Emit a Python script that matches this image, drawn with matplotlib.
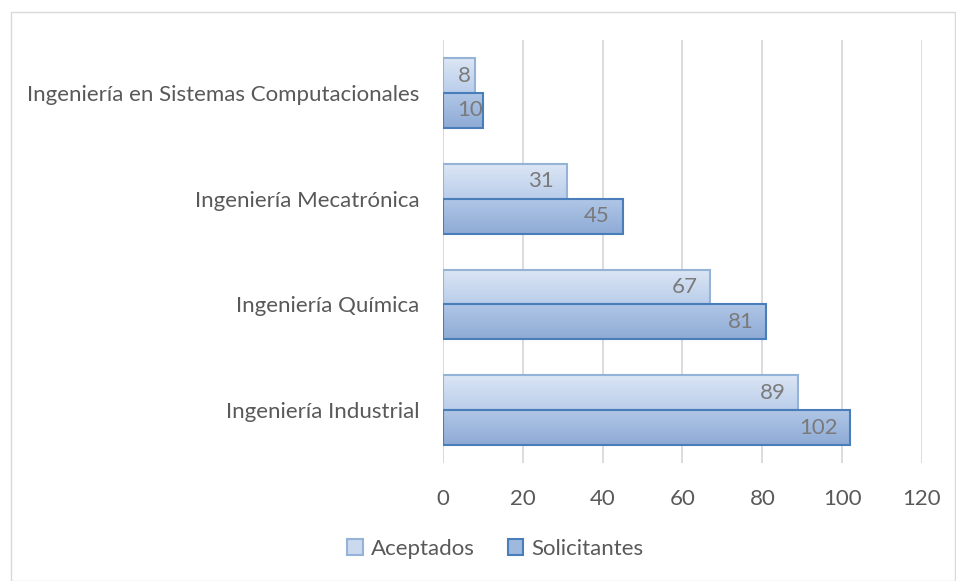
import matplotlib
matplotlib.use("Agg")
import matplotlib.pyplot as plt
import numpy as np
from matplotlib.colors import LinearSegmentedColormap
from matplotlib.patches import Rectangle, Patch

categories = ["Ingeniería Industrial", "Ingeniería Química", "Ingeniería Mecatrónica",
              "Ingeniería en Sistemas Computacionales"]
aceptados = [89, 67, 31, 8]
solicitantes = [102, 81, 45, 10]
series_names = ["Aceptados", "Solicitantes"]
xticks = [0, 20, 40, 60, 80, 100, 120]

plt.rcParams['font.family'] = ['Lato', 'DejaVu Sans']
text_color = '#595959'
fs = 16

fig = plt.figure(figsize=(9.56, 5.81), dpi=100)
ax = fig.add_axes([0.4634, 0.203, 0.501, 0.728])

bh = 0.33
y = np.arange(len(categories))
styles = [
    dict(top='#dce6f5', bot='#b9cdea', edge='#95b3d7', offset=+bh/2),
    dict(top='#b0c6e6', bot='#8eabd5', edge='#4a7ebb', offset=-bh/2),
]
grad = np.linspace(0, 1, 64).reshape(-1, 1)
for vals, st, name in zip([aceptados, solicitantes], styles, series_names):
    cmap = LinearSegmentedColormap.from_list('g', [st['top'], st['bot']])
    bars = ax.barh(y + st['offset'], vals, height=bh, facecolor='none',
                   edgecolor=st['edge'], linewidth=1.5, zorder=3, label=name)
    for b in bars:
        x0, y0 = b.get_x(), b.get_y()
        w, h = b.get_width(), b.get_height()
        ax.imshow(grad, cmap=cmap, extent=(x0, x0 + w, y0, y0 + h), origin='upper',
                  aspect='auto', zorder=2, interpolation='bilinear')
    for b, v in zip(bars, vals):
        yc = b.get_y() + b.get_height()/2
        if v >= 20:
            ax.text(v - 3.2, yc, str(v), ha='right', va='center',
                    fontsize=fs, color='#7a7a7a', zorder=4)
        else:
            ax.text(3.6, yc, str(v), ha='left', va='center',
                    fontsize=fs, color='#7a7a7a', zorder=4)

ax.set_xlim(0, 120)
ax.set_ylim(-0.5, 3.5)
ax.set_xticks(xticks)
ax.set_xticklabels([str(t) for t in xticks])
ax.set_yticks(y)
ax.set_yticklabels(categories)
ax.tick_params(axis='both', length=0, labelsize=fs, labelcolor=text_color)
ax.tick_params(axis='x', pad=19)
ax.tick_params(axis='y', pad=17)
ax.xaxis.grid(True, color='#d9d9d9', linewidth=1.3, zorder=0)
ax.set_axisbelow(True)
for s in ax.spines.values():
    s.set_visible(False)
ax.axvline(0, color='#d9d9d9', linewidth=1.3, zorder=1)

handles = [Patch(facecolor='#cbd9ef', edgecolor='#95b3d7', linewidth=1.5),
           Patch(facecolor='#9fb8de', edgecolor='#4a7ebb', linewidth=1.5)]
leg = fig.legend(handles, series_names, loc='center', bbox_to_anchor=(0.518, 0.055),
                 ncol=2, frameon=False, fontsize=fs, handlelength=0.7, handleheight=0.7,
                 handletextpad=0.35, columnspacing=1.5)
for t in leg.get_texts():
    t.set_color(text_color)

fig.patches.append(Rectangle((0.011, 0.0), 0.988, 0.979, transform=fig.transFigure,
                             fill=False, edgecolor='#d9d9d9', linewidth=1.0))

fig.savefig('out.png', dpi=100)
